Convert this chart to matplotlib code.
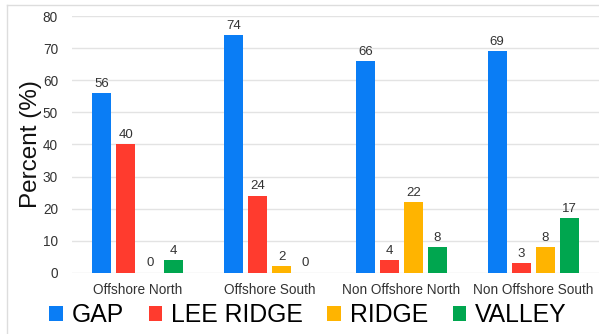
import matplotlib
matplotlib.use("Agg")
import matplotlib.pyplot as plt
from matplotlib.lines import Line2D
from matplotlib.patches import Patch
import numpy as np

plt.rcParams['font.family'] = ['Liberation Sans', 'DejaVu Sans']

categories = ["Offshore North", "Offshore South", "Non Offshore North", "Non Offshore South"]
series_names = ["GAP", "LEE RIDGE", "RIDGE", "VALLEY"]
gap = [56, 74, 66, 69]
lee_ridge = [40, 24, 4, 3]
ridge = [0, 2, 22, 8]
valley = [4, 0, 8, 17]
colors = ["#0a7df5", "#ff3b2e", "#ffb400", "#00a64f"]

fig = plt.figure(figsize=(5.99, 3.34), dpi=100)
ax = fig.add_axes([0.120, 0.183, 0.880, 0.769])

x = np.arange(len(categories))
step = 0.182
width = 0.145
all_series = [gap, lee_ridge, ridge, valley]
for i, (vals, col) in enumerate(zip(all_series, colors)):
    offs = (i - 1.5) * step
    ax.bar(x + offs, vals, width=width, color=col, zorder=3)
    for xi, v in zip(x + offs, vals):
        ax.annotate(str(v), (xi, v), xytext=(0, 2.5), textcoords="offset points",
                    ha="center", va="bottom", fontsize=9.5, color="#333333")

ax.set_xlim(-0.5, 3.5)
ax.set_ylim(0, 80)
ax.set_yticks(np.arange(0, 81, 10))
ax.set_xticks(x)
ax.set_xticklabels(categories)
ax.tick_params(axis="both", length=0, labelsize=9.8, labelcolor="#333333")
ax.tick_params(axis="y", pad=10)
ax.tick_params(axis="x", pad=7)
ax.grid(axis="y", color="#e3e3e3", linewidth=1.0, zorder=0)
for s in ax.spines.values():
    s.set_visible(False)

ax.set_ylabel("Percent (%)", fontsize=17.5, color="#111111")
ax.yaxis.set_label_coords(-0.056, 0.5)

handles = [Patch(facecolor=c, edgecolor="none") for c in colors]
fig.legend(handles, series_names, loc="center", bbox_to_anchor=(308 / 599, 19 / 334),
           ncol=4, frameon=False, fontsize=17.8, handlelength=0.55, handleheight=0.55,
           handletextpad=0.35, columnspacing=1.0)

# light frame around the figure
fig.add_artist(Line2D([7 / 599, 7 / 599], [0, 1 - 5 / 334], transform=fig.transFigure,
                      color="#dddddd", linewidth=1))
fig.add_artist(Line2D([7 / 599, 1], [1 - 5 / 334, 1 - 5 / 334], transform=fig.transFigure,
                      color="#dddddd", linewidth=1))

fig.savefig("out.png", dpi=100)
